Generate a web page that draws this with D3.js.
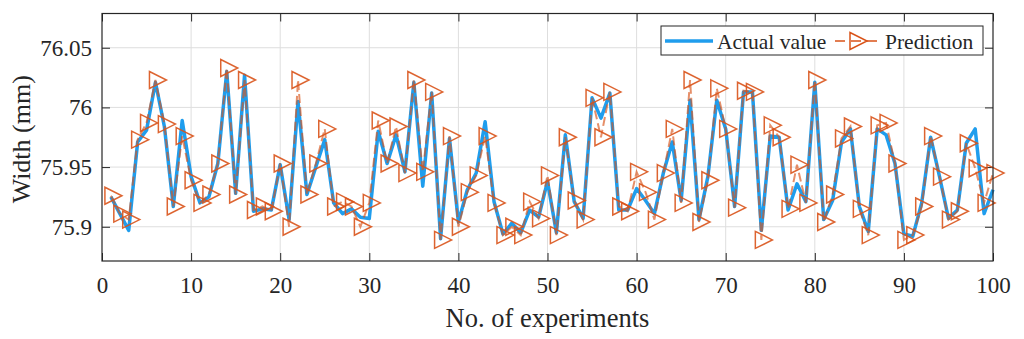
<!DOCTYPE html>
<html>
<head>
<meta charset="utf-8">
<script src="https://cdn.jsdelivr.net/npm/d3@7"></script>
<style>
  html, body { margin: 0; padding: 0; background: #fff; }
  svg { display: block; }
  text { font-family: "Liberation Serif", "Times New Roman", serif; fill: #262626; }
</style>
</head>
<body>
<svg id="chart" width="1024" height="339"></svg>
<script>
const experiments = [1,2,3,4,5,6,7,8,9,10,11,12,13,14,15,16,17,18,19,20,21,22,23,24,25,26,27,28,29,30,31,32,33,34,35,36,37,38,39,40,41,42,43,44,45,46,47,48,49,50,51,52,53,54,55,56,57,58,59,60,61,62,63,64,65,66,67,68,69,70,71,72,73,74,75,76,77,78,79,80,81,82,83,84,85,86,87,88,89,90,91,92,93,94,95,96,97,98,99,100];

const actualValue = [
  75.925,75.911,75.897,75.971,75.981,76.021,75.984,75.917,75.989,75.942,
  75.920,75.925,75.953,76.030,75.928,76.027,75.913,75.915,75.914,75.952,
  75.906,76.005,75.927,75.950,75.973,75.920,75.911,75.915,75.908,75.907,
  75.980,75.953,75.977,75.946,76.021,75.934,76.012,75.890,75.974,75.904,
  75.931,75.945,75.988,75.921,75.894,75.903,75.895,75.914,75.908,75.938,
  75.895,75.977,75.921,75.907,76.008,75.991,76.012,75.914,75.914,75.932,
  75.922,75.911,75.945,75.971,75.922,76.006,75.906,75.942,76.006,75.982,
  75.917,76.013,76.013,75.897,75.976,75.975,75.914,75.936,75.921,76.021,
  75.906,75.922,75.971,75.982,75.917,75.896,75.982,75.977,75.953,75.894,
  75.892,75.920,75.975,75.942,75.907,75.914,75.970,75.982,75.911,75.931
];

const prediction = [
  75.926,75.911,75.906,75.973,75.987,76.023,75.986,75.917,75.976,75.939,
  75.920,75.927,75.953,76.033,75.927,76.023,75.914,75.917,75.913,75.953,
  75.900,76.023,75.927,75.953,75.982,75.917,75.921,75.917,75.900,75.920,
  75.989,75.953,75.984,75.945,76.023,75.946,76.013,75.889,75.976,75.900,
  75.929,75.943,75.976,75.920,75.893,75.900,75.893,75.921,75.907,75.943,
  75.893,75.975,75.922,75.906,76.008,75.975,76.013,75.917,75.913,75.946,
  75.929,75.906,75.945,75.982,75.920,76.023,75.904,75.939,76.016,75.982,
  75.916,76.014,76.013,75.889,75.985,75.975,75.915,75.952,75.920,76.023,
  75.904,75.927,75.974,75.984,75.915,75.893,75.985,75.987,75.953,75.889,
  75.893,75.917,75.976,75.942,75.906,75.913,75.970,75.949,75.920,75.945
];

const xTicks = [0,10,20,30,40,50,60,70,80,90,100];
const yTicks = [75.9,75.95,76,76.05];
const yTickLabels = ["75.9","75.95","76","76.05"];
const seriesNames = ["Actual value","Prediction"];

const blue = "#1f9ded";
const orange = "#d95319";
const axisColor = "#262626";

const svg = d3.select("#chart");
const L = 102, R = 993, T = 13.5, B = 261;

const x = d3.scaleLinear().domain([0,100]).range([L,R]);
const y = d3.scaleLinear().domain([75.8713,76.0787]).range([B,T]);

// grid
const grid = svg.append("g");
grid.selectAll("line.gx").data(xTicks.slice(1,-1)).enter().append("line")
  .attr("x1", d=>x(d)).attr("x2", d=>x(d)).attr("y1", T).attr("y2", B)
  .attr("stroke", "#dedede").attr("stroke-width", 1);
grid.selectAll("line.gy").data(yTicks).enter().append("line")
  .attr("x1", L).attr("x2", R).attr("y1", d=>y(d)).attr("y2", d=>y(d))
  .attr("stroke", "#dedede").attr("stroke-width", 1);

// axes via d3 axis
const xAxis = d3.axisBottom(x).tickValues(xTicks).tickSize(-8).tickPadding(16).tickFormat(d3.format("d"));
const gx = svg.append("g").attr("transform", `translate(0,${B})`).call(xAxis);
gx.select(".domain").remove();
gx.selectAll("line").attr("stroke", axisColor);
gx.selectAll("text").attr("font-size", 23).attr("font-family", "Liberation Serif").attr("fill", axisColor);

const xAxisTop = d3.axisTop(x).tickValues(xTicks).tickSize(-8).tickFormat("");
const gxt = svg.append("g").attr("transform", `translate(0,${T})`).call(xAxisTop);
gxt.select(".domain").remove();
gxt.selectAll("line").attr("stroke", axisColor);

const yAxis = d3.axisLeft(y).tickValues(yTicks).tickSize(-8).tickPadding(10)
  .tickFormat((d,i)=>yTickLabels[i]);
const gy = svg.append("g").attr("transform", `translate(${L},0)`).call(yAxis);
gy.select(".domain").remove();
gy.selectAll("line").attr("stroke", axisColor);
gy.selectAll("text").attr("font-size", 23).attr("font-family", "Liberation Serif").attr("fill", axisColor);

const yAxisR = d3.axisRight(y).tickValues(yTicks).tickSize(-8).tickFormat("");
const gyr = svg.append("g").attr("transform", `translate(${R},0)`).call(yAxisR);
gyr.select(".domain").remove();
gyr.selectAll("line").attr("stroke", axisColor);

// series
const rows = experiments.map((e,i)=>({e, a: actualValue[i], p: prediction[i]}));

svg.append("path").datum(rows)
  .attr("fill","none").attr("stroke", blue).attr("stroke-width", 3.5)
  .attr("stroke-linejoin","round")
  .attr("d", d3.line().x(d=>x(d.e)).y(d=>y(d.a)));

svg.append("path").datum(rows)
  .attr("fill","none").attr("stroke", orange).attr("stroke-width", 2)
  .attr("stroke-opacity", 0.65)
  .attr("stroke-dasharray","9,4")
  .attr("d", d3.line().x(d=>x(d.e)).y(d=>y(d.p)));

const tri = "M-6,-8.5L11,0L-6,8.5Z";
svg.append("g").selectAll("path").data(rows).enter().append("path")
  .attr("d", tri)
  .attr("transform", d=>`translate(${x(d.e)},${y(d.p)})`)
  .attr("fill","none").attr("stroke", orange).attr("stroke-width", 1.5)
  .attr("stroke-opacity", 0.9);

// box
svg.append("rect").attr("x", L).attr("y", T).attr("width", R-L).attr("height", B-T)
  .attr("fill","none").attr("stroke", axisColor).attr("stroke-width", 1.2);

// axis labels
svg.append("text").attr("x", (L+R)/2).attr("y", 327).attr("text-anchor","middle")
  .attr("font-size", 26.5).text("No. of experiments");
svg.append("text").attr("transform", `translate(30,${(T+B)/2+2}) rotate(-90)`)
  .attr("text-anchor","middle").attr("font-size", 26).text("Width (mm)");

// legend
const lg = svg.append("g");
lg.append("rect").attr("x", 661).attr("y", 26).attr("width", 322).attr("height", 29)
  .attr("fill","#fff").attr("stroke", axisColor).attr("stroke-width", 1);
lg.append("line").attr("x1", 665).attr("x2", 713).attr("y1", 41).attr("y2", 41)
  .attr("stroke", blue).attr("stroke-width", 3.5);
lg.append("text").attr("x", 717).attr("y", 48.5).attr("font-size", 21.5).text(seriesNames[0]);
lg.append("line").attr("x1", 835).attr("x2", 883).attr("y1", 41).attr("y2", 41)
  .attr("stroke", orange).attr("stroke-width", 1.6).attr("stroke-dasharray","10,6");
lg.append("path").attr("d", tri).attr("transform","translate(856,41)")
  .attr("fill","none").attr("stroke", orange).attr("stroke-width", 1.5);
lg.append("text").attr("x", 885).attr("y", 48.5).attr("font-size", 21.5).text(seriesNames[1]);
</script>
</body>
</html>
